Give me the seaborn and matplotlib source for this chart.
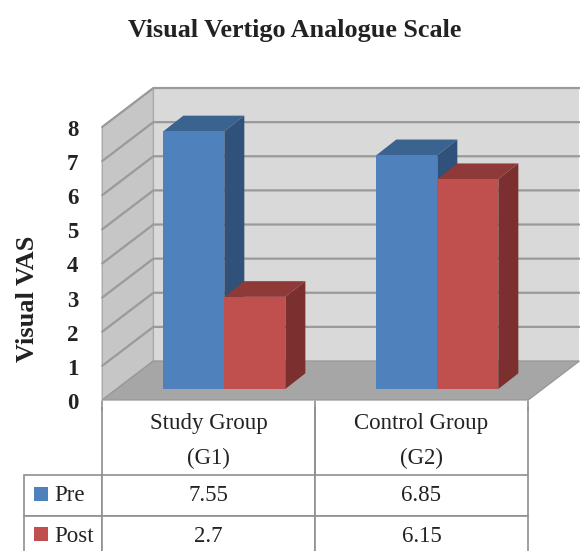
import pandas as pd
import matplotlib.pyplot as plt
from matplotlib.patches import Polygon, Rectangle
import seaborn as sns

title = "Visual Vertigo Analogue Scale"
y_label = "Visual VAS"
groups = ["Study Group\n(G1)", "Control Group\n(G2)"]
series_names = ["Pre", "Post"]
pre = [7.55, 6.85]
post = [2.7, 6.15]
y_ticks = [0, 1, 2, 3, 4, 5, 6, 7, 8]
table_pre = ["7.55", "6.85"]
table_post = ["2.7", "6.15"]

colors = {"Pre": "#4F81BD", "Post": "#C0504D"}
top_colors = {"Pre": "#3B6390", "Post": "#8F3A38"}
side_colors = {"Pre": "#30527A", "Post": "#7B2F2E"}

sns.set_theme(style="white")
plt.rcParams["font.family"] = ["Liberation Serif", "DejaVu Serif"]

W, H = 580, 551
df = pd.DataFrame({
    "group": groups * 2,
    "series": ["Pre"] * 2 + ["Post"] * 2,
    "value": pre + post,
})


def px_axes(fig, left, right, top, bottom):
    return fig.add_axes([left / W, 1 - bottom / H, (right - left) / W, (bottom - top) / H])


fig = plt.figure(figsize=(W / 100, H / 100), dpi=100)

# front plane of the box: holds the value axis and the table
ax_front = px_axes(fig, 102, 528, 128, 401)
ax_front.set_zorder(1)
ax_front.patch.set_visible(False)
ax_front.set_xlim(-0.5, 1.5)
ax_front.set_ylim(0, 8)
ax_front.set_xticks([])
ax_front.set_yticks(y_ticks)
ax_front.tick_params(axis="y", length=0, pad=17, labelsize=16.5)
for lab in ax_front.get_yticklabels():
    lab.set_fontweight("bold")
    lab.set_color("#222222")
ax_front.set_ylabel(y_label, fontsize=19, fontweight="bold", color="#222222")
ax_front.yaxis.set_label_coords(-63 / 426, 102 / 273)
sns.despine(ax=ax_front, top=True, right=True, left=True, bottom=True)

# plane the bars stand on, a bit behind the front plane
ax = px_axes(fig, 117.8, 543.8, 116, 389)
ax.set_zorder(2)
sns.barplot(data=df, x="group", y="value", hue="series", hue_order=series_names,
            palette=colors, saturation=1, width=0.573, gap=0, legend=False, ax=ax)
ax.set_xlim(-0.5, 1.5)
ax.set_ylim(0, 8)
ax.axis("off")

# offsets in data units
front_dx, front_dy = -0.073, -0.32
back_dx, back_dy = 0.167, 0.82
bar_dx, bar_dy = 0.094, 0.46

fx0, fx1 = -0.5 + front_dx, 1.5 + front_dx
bx0, bx1 = -0.5 + back_dx, 1.5 + back_dx
line_col = "#9A9A9A"

ax.add_patch(Polygon([(bx0, back_dy), (bx1, back_dy), (bx1, 8 + back_dy), (bx0, 8 + back_dy)],
                     fc="#D9D9D9", ec="none", zorder=0.1, clip_on=False))
ax.add_patch(Polygon([(fx0, front_dy), (bx0, back_dy), (bx0, 8 + back_dy), (fx0, 8 + front_dy)],
                     fc="#C6C6C6", ec="#A8A8A8", lw=1, zorder=0.2, clip_on=False))
ax.add_patch(Polygon([(fx0, front_dy), (fx1, front_dy), (bx1, back_dy), (bx0, back_dy)],
                     fc="#A6A6A6", ec="#999999", lw=1, zorder=0.3, clip_on=False))
for v in y_ticks[1:]:
    ax.plot([fx0, bx0, bx1], [v + front_dy, v + back_dy, v + back_dy], color=line_col,
            lw=1.6, zorder=0.25, clip_on=False, solid_joinstyle="miter")

# top and side faces of the bars
for name, cont, z in zip(series_names, ax.containers, [2, 2.5]):
    for bar in cont:
        bar.set_zorder(3)
        bar.set_edgecolor("none")
        bar.set_linewidth(0)
        x0, w, h = bar.get_x(), bar.get_width(), bar.get_height()
        x1 = x0 + w
        ax.add_patch(Polygon([(x0, h), (x1, h), (x1 + bar_dx, h + bar_dy), (x0 + bar_dx, h + bar_dy)],
                             fc=top_colors[name], ec="none", zorder=z, clip_on=False))
        ax.add_patch(Polygon([(x1, 0), (x1 + bar_dx, bar_dy), (x1 + bar_dx, h + bar_dy), (x1, h)],
                             fc=side_colors[name], ec="none", zorder=z, clip_on=False))

# data table under the box, first row starts a little below the floor so its text sits lower
cells = [["", *groups], ["Pre", *table_pre], ["Post", *table_post]]
tbl = ax_front.table(cellText=cells, cellLoc="center",
                     bbox=[-78 / 426, -156 / 273, 504 / 426, 150 / 273])
tbl.auto_set_font_size(False)
tbl.set_fontsize(16.5)
col_px = [78, 213, 213]
row_px = [68, 41, 41]
for (r, c), cell in tbl.get_celld().items():
    cell.set_width(col_px[c])
    cell.set_height(row_px[r])
    cell.set_edgecolor("#8F8F8F")
    cell.set_linewidth(1.2)
    cell.set_clip_on(False)
    cell.get_text().set_color("#222222")
    if r == 0:
        cell.get_text().set_linespacing(1.8)
    if c == 0 and r > 0:
        cell.PAD = 30 / 78
        cell.set_text_props(ha="left")
tbl[0, 0].visible_edges = ""
tbl[0, 1].visible_edges = "LR"
tbl[0, 2].visible_edges = "LR"

# close the gap between the floor and the first table row
for x in [-0.5, 0.5, 1.5]:
    ax_front.plot([x, x], [0, -0.25], color="#8F8F8F", lw=1.2, clip_on=False, zorder=1)

# legend keys inside the table
for name, y_px in zip(series_names, [487, 527]):
    fig.patches.append(Rectangle((34 / W, 1 - (y_px + 14) / H), 14 / W, 14 / H,
                                 transform=fig.transFigure, fc=colors[name], ec="none", figure=fig))

fig.text(295 / W, 1 - 30 / H, title, ha="center", va="center", fontsize=18.8,
         fontweight="bold", color="#222222")

fig.savefig("out.png", dpi=100)
